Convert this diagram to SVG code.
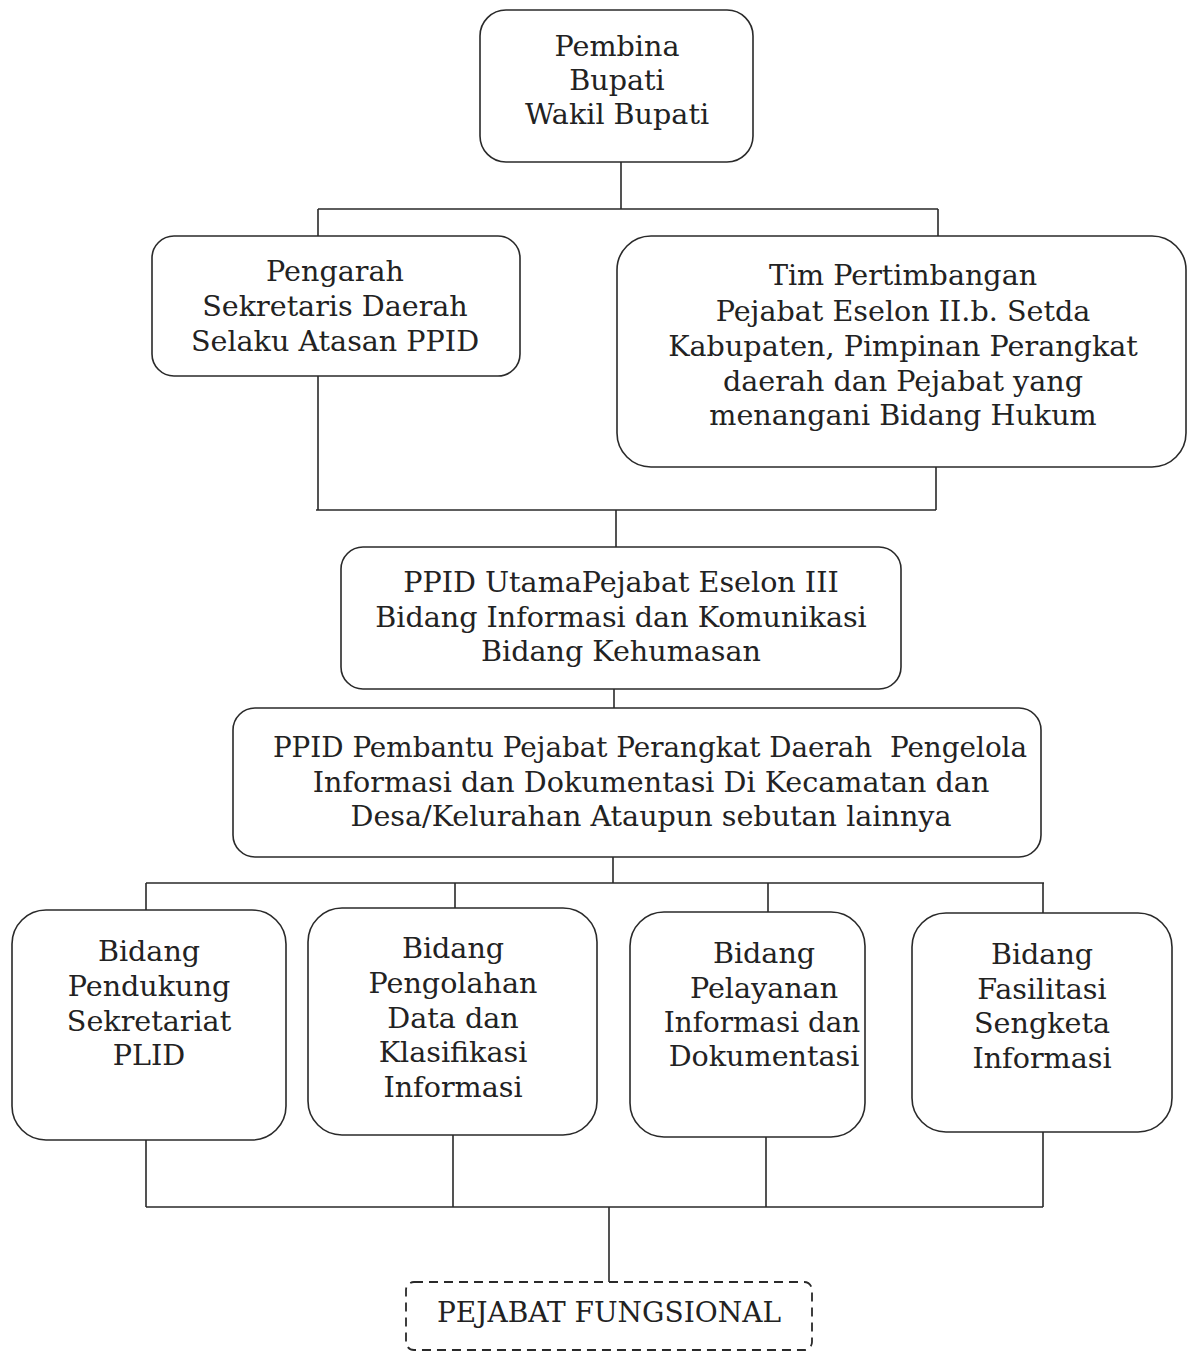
<svg xmlns="http://www.w3.org/2000/svg" width="1188" height="1354" viewBox="0 0 1188 1354">
<style>
.box{fill:#fff;stroke:#2a2a2a;stroke-width:1.6}
.dash{fill:#fff;stroke:#2a2a2a;stroke-width:1.8;stroke-dasharray:9 6}
.ln{fill:none;stroke:#2a2a2a;stroke-width:1.6}
text{font-family:"DejaVu Serif","Liberation Serif",serif;font-size:28.6px;fill:#222;text-anchor:middle}
.sm{font-size:28px}
.xs{font-size:27.8px}
</style>
<rect width="1188" height="1354" fill="#fff"/>
<g id="connectors">
<path class="ln" d="M621 162V209M318 209H938M318 209V236M938 209V236"/>
<path class="ln" d="M318 376V510M936 467V510M316 510H936M616 510V547"/>
<path class="ln" d="M614 689V708"/>
<path class="ln" d="M613 857V883M146 883H1044M146 883V910M455 883V908M768 883V912M1043 883V913"/>
<path class="ln" d="M146 1140V1207M453 1135V1207M766 1137V1207M1043 1132V1207M146 1207H1043M609 1207V1282"/>
</g>
<g id="pembina">
<rect class="box" x="480" y="10" width="273" height="152" rx="26"/>
<text x="617" y="56">Pembina</text>
<text x="617" y="90">Bupati</text>
<text x="617" y="124">Wakil Bupati</text>
</g>
<g id="pengarah">
<rect class="box" x="152" y="236" width="368" height="140" rx="22"/>
<text x="335" y="281">Pengarah</text>
<text x="335" y="316">Sekretaris Daerah</text>
<text x="335" y="351">Selaku Atasan PPID</text>
</g>
<g id="tim">
<rect class="box" x="617" y="236" width="569" height="231" rx="34"/>
<text x="903" y="285">Tim Pertimbangan</text>
<text x="903" y="321">Pejabat Eselon II.b. Setda</text>
<text x="903" y="356">Kabupaten, Pimpinan Perangkat</text>
<text x="903" y="391">daerah dan Pejabat yang</text>
<text x="903" y="425">menangani Bidang Hukum</text>
</g>
<g id="ppid-utama">
<rect class="box" x="341" y="547" width="560" height="142" rx="22"/>
<text x="621" y="592">PPID UtamaPejabat Eselon III</text>
<text x="621" y="627">Bidang Informasi dan Komunikasi</text>
<text x="621" y="661">Bidang Kehumasan</text>
</g>
<g id="ppid-pembantu">
<rect class="box" x="233" y="708" width="808" height="149" rx="22"/>
<text class="xs" x="650" y="757" xml:space="preserve">PPID Pembantu Pejabat Perangkat Daerah  Pengelola</text>
<text x="651" y="792">Informasi dan Dokumentasi Di Kecamatan dan</text>
<text x="651" y="826">Desa/Kelurahan Ataupun sebutan lainnya</text>
</g>
<g id="bidang-pendukung">
<rect class="box" x="12" y="910" width="274" height="230" rx="34"/>
<text x="149" y="961">Bidang</text>
<text x="149" y="996">Pendukung</text>
<text x="149" y="1031">Sekretariat</text>
<text x="149" y="1065">PLID</text>
</g>
<g id="bidang-pengolahan">
<rect class="box" x="308" y="908" width="289" height="227" rx="34"/>
<text x="453" y="958">Bidang</text>
<text x="453" y="993">Pengolahan</text>
<text x="453" y="1028">Data dan</text>
<text x="453" y="1062">Klasifikasi</text>
<text x="453" y="1097">Informasi</text>
</g>
<g id="bidang-pelayanan">
<rect class="box" x="630" y="912" width="235" height="225" rx="34"/>
<text x="764" y="963">Bidang</text>
<text x="764" y="998">Pelayanan</text>
<text class="xs" x="762" y="1032">Informasi dan</text>
<text x="764" y="1066">Dokumentasi</text>
</g>
<g id="bidang-fasilitasi">
<rect class="box" x="912" y="913" width="260" height="219" rx="34"/>
<text x="1042" y="964">Bidang</text>
<text x="1042" y="999">Fasilitasi</text>
<text x="1042" y="1033">Sengketa</text>
<text x="1042" y="1068">Informasi</text>
</g>
<g id="pejabat-fungsional">
<rect class="dash" x="406" y="1282" width="406" height="68" rx="8"/>
<text class="sm" x="609" y="1322">PEJABAT FUNGSIONAL</text>
</g>
</svg>
